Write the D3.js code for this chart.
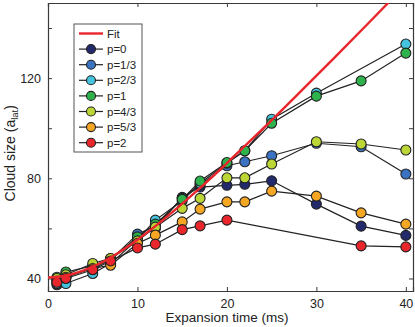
<!DOCTYPE html>
<html lang="en">
  <head>
    <meta charset="UTF-8" />
    <script src="https://d3js.org/d3.v7.min.js"></script>
    <style>
      body { margin: 0; background: #fff; }
      svg { font-family: "Liberation Sans", Arial, sans-serif; }
    </style>
  </head>
  <body>
    <svg id="chart" width="415" height="327"></svg>
    <script>
      // data
      const times = [1, 2, 5, 7, 10, 12, 15, 17, 20, 22, 25, 30, 35, 40];
      const p0 = [37.5, 40.5, 44.5, 48, 56, 60, 72.4, 76.5, 77.2, 77.6, 79, 69.7, 60.9, 57.2];
      const p1_3 = [39, 41, 44, 47.5, 57.7, 61, 72, 77.5, 85, 86.6, 89, 94, 92.6, 81.7];
      const p2_3 = [38, 38, 42, 46, 55.5, 63.3, 71, 78, 86, 91, 103.6, 114, null, 133.6];
      const p1 = [40.5, 42.6, 45, 47.5, 56.6, 61.7, 71.6, 78.9, 86.3, 91, 102, 112.8, 118.9, 130];
      const p4_3 = [40, 41.5, 46, 48, 55, 60.5, 68, 72, 80.2, 80.2, 85.7, 94.6, 93.7, 91.3];
      const p5_3 = [39, 40.5, 44, 45.3, 54, 57.3, 62.6, 67.7, 70.6, 70.6, 74.9, 72.9, 66.2, 61.7];
      const p2 = [38.5, 40, 43.5, 47, 52.2, 53.7, 59.5, 61, 63.3, null, null, null, 53, 52.6];

      const fitTimes = [0, 2, 4, 6, 8, 10, 12, 14, 16, 18, 20, 24, 28, 32, 36, 40];
      const fitValues = [40.4, 41.1, 43.2, 46.4, 50.6, 55.5, 60.9, 66.8, 73, 79.4, 86.1, 99.7, 113.8, 128.1, 142.6, 157.3];

      const labels = ["p=0", "p=1/3", "p=2/3", "p=1", "p=4/3", "p=5/3", "p=2"];
      const colors = ["#232a6c", "#3b73c2", "#45c3df", "#2eb34c", "#bcd636", "#f5a623", "#e8262b"];
      const series = [p0, p1_3, p2_3, p1, p4_3, p5_3, p2];

      const xTicks = [0, 10, 20, 30, 40];
      const yTicks = [40, 60, 80, 100, 120, 140];
      const yLabeled = [40, 80, 120];

      const svg = d3.select("#chart");
      const margin = { top: 3, right: 2, bottom: 36, left: 48 };
      const width = 415 - margin.left - margin.right,
        height = 327 - margin.top - margin.bottom;

      const x = d3.scaleLinear().domain([0, 40.8]).range([0, width]);
      const y = d3.scaleLinear().domain([35, 150]).range([height, 0]);

      const g = svg.append("g").attr("transform", `translate(${margin.left},${margin.top})`);

      g.append("clipPath").attr("id", "clip")
        .append("rect").attr("width", width).attr("height", height);

      // axes (ticks point inward, box on)
      const axisColor = "#3a3a3a";
      const axBottom = g.append("g").attr("transform", `translate(0,${height})`)
        .call(d3.axisBottom(x).tickValues(xTicks).tickSize(-4).tickPadding(8));
      const axTop = g.append("g")
        .call(d3.axisTop(x).tickValues(xTicks).tickSize(-4).tickFormat(""));
      const axLeft = g.append("g")
        .call(d3.axisLeft(y).tickValues(yTicks).tickSize(-4).tickPadding(7)
          .tickFormat(d => yLabeled.includes(d) ? d : ""));
      const axRight = g.append("g").attr("transform", `translate(${width},0)`)
        .call(d3.axisRight(y).tickValues(yTicks).tickSize(-4).tickFormat(""));

      [axBottom, axTop, axLeft, axRight].forEach(a => {
        a.select(".domain").attr("stroke", axisColor).attr("stroke-width", 1.2);
        a.selectAll(".tick line").attr("stroke", axisColor);
        a.selectAll(".tick text").attr("fill", "#222").attr("font-size", 12.5)
          .attr("font-family", "Liberation Sans, Arial, sans-serif");
      });

      // data series
      const line = d3.line()
        .x(d => x(d[0])).y(d => y(d[1]));

      series.forEach((vals, i) => {
        const pts = times.map((t, j) => [t, vals[j]]).filter(d => d[1] != null);
        const s = g.append("g");
        s.append("path").datum(pts).attr("d", line)
          .attr("fill", "none").attr("stroke", "#222").attr("stroke-width", 1.2);
        s.selectAll("circle").data(pts).join("circle")
          .attr("cx", d => x(d[0])).attr("cy", d => y(d[1])).attr("r", 5)
          .attr("fill", colors[i]).attr("stroke", "#222").attr("stroke-width", 1.1);
      });

      // fit
      g.append("path")
        .datum(fitTimes.map((t, i) => [t, fitValues[i]]))
        .attr("clip-path", "url(#clip)")
        .attr("d", d3.line().curve(d3.curveMonotoneX).x(d => x(d[0])).y(d => y(d[1])))
        .attr("fill", "none").attr("stroke", "#e8262b").attr("stroke-width", 2.4);

      // axis titles
      svg.append("text")
        .attr("x", margin.left + x(20)).attr("y", 322)
        .attr("text-anchor", "middle").attr("font-size", 13.5).attr("fill", "#222")
        .text("Expansion time (ms)");

      const yt = svg.append("text")
        .attr("transform", `translate(15,${margin.top + y(90)}) rotate(-90)`)
        .attr("text-anchor", "middle").attr("font-size", 14).attr("fill", "#222");
      yt.append("tspan").text("Cloud size (a");
      yt.append("tspan").attr("font-size", 9.5).attr("dy", 3).text("lat");
      yt.append("tspan").attr("dy", -3).text(")");

      // legend
      const lg = svg.append("g").attr("transform", "translate(74,24)");
      lg.append("rect").attr("width", 68).attr("height", 128)
        .attr("fill", "#fff").attr("stroke", "#555").attr("stroke-width", 1);
      const rowY = i => 9.5 + i * 15.6;
      lg.append("line").attr("x1", 5).attr("x2", 29).attr("y1", rowY(0)).attr("y2", rowY(0))
        .attr("stroke", "#e8262b").attr("stroke-width", 2.4);
      lg.append("text").attr("x", 33).attr("y", rowY(0) + 4).attr("font-size", 11.5)
        .attr("fill", "#222").text("Fit");
      labels.forEach((lab, i) => {
        const yy = rowY(i + 1);
        lg.append("line").attr("x1", 5).attr("x2", 29).attr("y1", yy).attr("y2", yy)
          .attr("stroke", "#222").attr("stroke-width", 1.2);
        lg.append("circle").attr("cx", 17).attr("cy", yy).attr("r", 4.5)
          .attr("fill", colors[i]).attr("stroke", "#222").attr("stroke-width", 1.1);
        lg.append("text").attr("x", 33).attr("y", yy + 4).attr("font-size", 11.5)
          .attr("fill", "#222").text(lab);
      });
    </script>
  </body>
</html>
